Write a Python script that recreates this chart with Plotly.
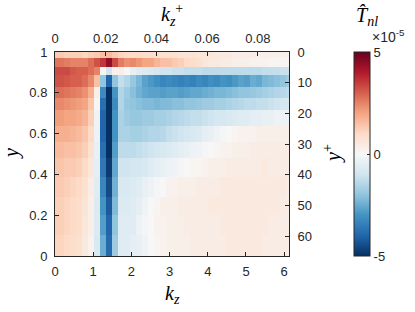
import math
import plotly.graph_objects as go

# ---------------- data ----------------
RE_TAU = 66.4
kz = [k * math.pi / 20 for k in range(40)]          # column centres (kz grid)
y_edges = [0.0, 0.103, 0.201, 0.289, 0.387, 0.480, 0.559, 0.637,
           0.716, 0.775, 0.828, 0.887, 0.926, 0.971, 1.0]   # wall-normal cell edges

# T_nl values in units of 1e-5, rows listed from top (y=1) to bottom (y=0)
row00 = [1.3,1.3,1.2,1.2,1.2,1.1,1.2,1.3,1.5,1.6, 1.3,1.1,1.0,1.0,1.0,0.9,0.9,0.9,0.8,0.8,
         0.8,0.7,0.7,0.7,0.6,0.6,0.6,0.5,0.5,0.5, 0.4,0.4,0.4,0.4,0.3,0.3,0.3,0.3,0.3,0.3]
row01 = [2.7,2.7,2.6,2.5,2.5,2.5,2.8,3.2,3.6,4.4, 3.3,2.6,2.3,2.4,2.2,2.0,2.0,1.7,1.5,1.5,
         1.3,1.2,1.0,0.9,0.8,0.6,0.5,0.5,0.4,0.4, 0.3,0.3,0.3,0.2,0.2,0.2,0.1,0.1,0.1,0.1]
row02 = [3.3,3.3,3.3,3.1,3.0,3.0,2.8,2.5,0.1,-1.0, 0.2,0.3,0.0,-0.4,-0.6,-0.7,-0.8,-0.9,-1.0,-1.0,
         -1.1,-1.1,-1.2,-1.2,-1.2,-1.3,-1.3,-1.3,-1.3,-1.3, -1.3,-1.3,-1.3,-1.3,-1.3,-1.2,-1.2,-1.2,-1.1,-1.1]
row03 = [3.2,3.2,3.1,3.0,3.0,2.8,2.4,1.5,-2.0,-4.0, -2.0,-1.2,-1.5,-1.9,-2.3,-2.7,-2.9,-3.1,-3.3,-3.2,
         -3.3,-3.4,-3.3,-3.4,-3.2,-3.3,-3.1,-3.2,-3.0,-3.1, -2.9,-2.7,-2.8,-2.5,-2.6,-2.3,-2.2,-2.1,-2.0,-1.8]
row04 = [2.8,2.8,2.7,2.6,2.5,2.3,1.8,0.3,-3.2,-5.0, -3.0,-1.5,-1.8,-2.1,-2.4,-2.6,-2.7,-2.7,-2.8,-2.7,
         -2.7,-2.8,-2.7,-2.6,-2.6,-2.5,-2.4,-2.3,-2.3,-2.2, -2.1,-2.0,-2.0,-1.9,-1.8,-1.7,-1.6,-1.5,-1.4,-1.3]
row05 = [2.4,2.4,2.3,2.2,2.1,2.0,1.4,0.1,-3.8,-5.0, -3.2,-1.5,-1.9,-2.0,-2.1,-2.2,-2.2,-2.3,-2.2,-2.2,
         -2.1,-2.1,-2.0,-2.0,-1.9,-1.8,-1.8,-1.7,-1.7,-1.6, -1.5,-1.4,-1.3,-1.3,-1.2,-1.2,-1.1,-1.0,-0.9,-0.9]
row06 = [2.1,2.1,2.0,2.0,1.9,1.7,1.2,-0.2,-4.0,-5.0, -3.0,-1.6,-1.8,-1.9,-1.9,-1.8,-1.8,-1.7,-1.7,-1.6,
         -1.5,-1.4,-1.3,-1.2,-1.2,-1.1,-1.0,-0.9,-0.9,-0.8, -0.7,-0.6,-0.6,-0.5,-0.5,-0.4,-0.4,-0.3,-0.3,-0.3]
row07 = [1.8,1.8,1.8,1.7,1.6,1.4,1.0,-0.3,-4.0,-5.0, -3.0,-1.6,-1.6,-1.7,-1.7,-1.6,-1.5,-1.5,-1.4,-1.2,
         -1.1,-1.0,-0.9,-0.8,-0.7,-0.5,-0.4,-0.2,-0.1,0.0, 0.1,0.2,0.2,0.2,0.3,0.3,0.3,0.3,0.3,0.3]
row08 = [1.6,1.6,1.5,1.5,1.4,1.2,0.8,-0.4,-3.8,-5.0, -2.8,-1.3,-1.3,-1.3,-1.2,-1.1,-1.0,-0.9,-0.8,-0.7,
         -0.6,-0.5,-0.4,-0.3,-0.2,-0.1,0.0,0.1,0.2,0.2, 0.3,0.3,0.3,0.4,0.4,0.4,0.4,0.4,0.4,0.4]
row09 = [1.4,1.4,1.3,1.3,1.2,1.0,0.6,-0.5,-3.6,-4.8, -2.6,-1.0,-1.0,-0.9,-0.9,-0.8,-0.6,-0.5,-0.4,-0.3,
         -0.2,-0.1,0.0,0.1,0.1,0.2,0.3,0.3,0.3,0.4, 0.4,0.4,0.4,0.4,0.4,0.5,0.4,0.4,0.4,0.4]
row10 = [1.3,1.3,1.2,1.1,1.0,0.8,0.4,-0.6,-3.3,-4.5, -2.4,-0.8,-0.8,-0.7,-0.6,-0.4,-0.3,-0.1,0.0,0.2,
         0.2,0.3,0.3,0.3,0.4,0.4,0.4,0.4,0.5,0.5, 0.5,0.5,0.5,0.5,0.5,0.5,0.5,0.5,0.5,0.4]
row11 = [1.2,1.2,1.1,1.0,0.9,0.7,0.3,-0.7,-3.0,-4.2, -2.2,-0.7,-0.7,-0.6,-0.5,-0.2,0.0,0.1,0.3,0.3,
         0.3,0.4,0.4,0.4,0.4,0.4,0.5,0.5,0.5,0.5, 0.5,0.5,0.5,0.5,0.5,0.5,0.5,0.5,0.4,0.4]
row12 = [1.2,1.2,1.1,1.0,0.9,0.6,0.3,-0.7,-2.8,-4.0, -2.0,-0.6,-0.6,-0.6,-0.3,-0.1,0.0,0.2,0.2,0.3,
         0.3,0.3,0.4,0.4,0.4,0.4,0.4,0.4,0.5,0.5, 0.5,0.5,0.5,0.5,0.5,0.5,0.4,0.4,0.4,0.4]
row13 = [1.1,1.1,1.0,0.9,0.8,0.5,0.2,-0.8,-2.5,-3.9, -1.8,-0.6,-0.6,-0.5,-0.4,-0.2,0.0,0.1,0.2,0.3,
         0.3,0.3,0.3,0.4,0.4,0.4,0.4,0.4,0.4,0.5, 0.5,0.5,0.5,0.5,0.5,0.4,0.4,0.4,0.4,0.4]

rows_top_to_bottom = [row00, row01, row02, row03, row04, row05, row06,
                      row07, row08, row09, row10, row11, row12, row13]
z = rows_top_to_bottom[::-1]   # bottom (y=0) first to match y_edges

cbar_ticks = [-5, 0, 5]
x_ticks = [0, 1, 2, 3, 4, 5, 6]
y_ticks = [0, 0.2, 0.4, 0.6, 0.8, 1]
xp_ticks = [0, 0.02, 0.04, 0.06, 0.08]
yp_ticks = [0, 10, 20, 30, 40, 50, 60]

# ---------------- style ----------------
colorscale = [[0.0, '#053061'], [0.1, '#2166ac'], [0.2, '#4393c3'], [0.3, '#92c5de'],
              [0.4, '#d1e5f0'], [0.5, '#f7f7f7'], [0.6, '#fddbc7'], [0.7, '#f4a582'],
              [0.8, '#d6604d'], [0.9, '#b2182b'], [1.0, '#67001f']]
AX = '#262626'
TICKFONT = dict(family='Liberation Sans, Arial, sans-serif', size=13, color=AX)
TITLEFONT = dict(family='Liberation Serif, Times New Roman, serif', size=20, color='black')

L, R, T, B = 55, 126, 52, 56
W, H = 415, 312
pw, ph = W - L - R, H - T - B

def px_x(px):
    return (px - L) / pw

def px_y(py):
    return (H - B - py) / ph

fig = go.Figure()
fig.add_trace(go.Heatmap(
    x=kz, y=y_edges, z=z, zmin=-5, zmax=5, colorscale=colorscale, zsmooth=False,
    colorbar=dict(x=px_x(354), xanchor='left', y=0.5, yanchor='middle',
                  len=1, lenmode='fraction', thickness=16,
                  outlinewidth=1, outlinecolor=AX,
                  tickvals=cbar_ticks, ticktext=[str(v) for v in cbar_ticks],
                  ticks='inside', ticklen=3, tickcolor=AX,
                  tickfont=TICKFONT, ypad=0, xpad=0),
    hoverinfo='skip'))
fig.add_trace(go.Scatter(x=[None], y=[None], xaxis='x2', yaxis='y2',
                         showlegend=False, hoverinfo='skip'))

kz_max = kz[-1]
common = dict(showgrid=False, zeroline=False, showline=True, linecolor=AX, linewidth=1,
              ticks='inside', ticklen=4, tickcolor=AX, tickfont=TICKFONT, automargin=False)
fig.update_layout(
    width=W, height=H, margin=dict(l=L, r=R, t=T, b=B, autoexpand=False),
    paper_bgcolor='white', plot_bgcolor='white', showlegend=False,
    xaxis=dict(range=[0, kz_max], tickvals=x_ticks, ticktext=[str(v) for v in x_ticks],
               ticklabelstandoff=3, **common),
    yaxis=dict(range=[0, 1], tickvals=y_ticks, ticktext=[('%g' % v) for v in y_ticks],
               ticklabelstandoff=4, **common),
    xaxis2=dict(range=[0, kz_max / RE_TAU], overlaying='x', side='top', anchor='y',
                tickvals=xp_ticks, ticktext=[('%g' % v) for v in xp_ticks],
                ticklabelstandoff=3, **common),
    yaxis2=dict(range=[RE_TAU, 0], overlaying='y', side='right', anchor='x',
                tickvals=yp_ticks, ticktext=[str(v) for v in yp_ticks],
                ticklabelstandoff=5, **common),
)

ann = [
    dict(x=0.5, y=px_y(294), text='<i>k<sub>z</sub></i>', xanchor='center', yanchor='middle'),
    dict(x=0.5, y=px_y(15), text='<i>k<sub>z</sub></i><sup>+</sup>', xanchor='center', yanchor='middle'),
    dict(x=px_x(11), y=0.5, text='<i>y</i>', textangle=-90, xanchor='center', yanchor='middle'),
    dict(x=px_x(332), y=px_y(154), text='<i>y</i><sup>+</sup>', textangle=-90, xanchor='center', yanchor='middle'),
    dict(x=px_x(367), y=px_y(17), text='<i>T\u0302<sub>nl</sub></i>', xanchor='center', yanchor='middle'),
]
for a in ann:
    a.update(xref='paper', yref='paper', showarrow=False, font=TITLEFONT)
ann.append(dict(x=px_x(370), y=px_y(36), xref='paper', yref='paper', showarrow=False,
                text='\u00d710<sup>-5</sup>', xanchor='left', yanchor='middle',
                font=dict(TICKFONT, size=14)))
fig.update_layout(annotations=ann)

fig.write_html('out.html', config={'displayModeBar': False, 'staticPlot': True},
               post_script="document.body.style.margin='0px';document.body.style.overflow='hidden';")
